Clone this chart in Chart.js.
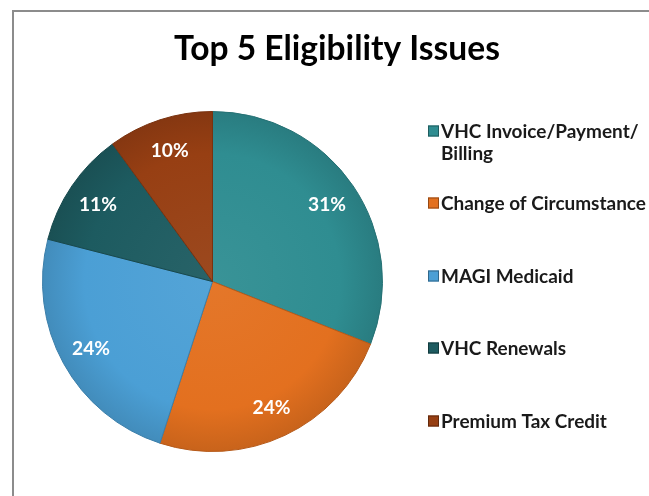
<!DOCTYPE html>
<html>
<head>
<meta charset="utf-8">
<script src="https://cdn.jsdelivr.net/npm/chart.js@4.4.0/dist/chart.umd.min.js"></script>
<style>
  html, body { margin: 0; padding: 0; background: #fff; }
  #wrap { position: relative; width: 649px; height: 496px; overflow: hidden; }
  canvas { display: block; }
</style>
</head>
<body>
<div id="wrap"><canvas id="pieChart" width="649" height="496"></canvas></div>
<script>
const titleText = 'Top 5 Eligibility Issues';
const categories = ['VHC Invoice/Payment/Billing', 'Change of Circumstance', 'MAGI Medicaid', 'VHC Renewals', 'Premium Tax Credit'];
const shares = [31, 24, 24, 11, 10];
const sliceColors = ['#2f8d91', '#e3701f', '#4b9fd5', '#1d5b60', '#973f13'];

const fontFamily = 'Lato, "Open Sans", sans-serif';
const legendRows = [131, 203, 276, 348, 421]; // cap centre of each entry's first line

// pick a font size so that a sample string has the width seen in the picture
function fitSize(ctx, text, width) {
    ctx.font = 'bold 100px ' + fontFamily;
    return 100 * width / ctx.measureText(text).width;
}

function shade(hex, amt) {
    const n = parseInt(hex.slice(1), 16);
    const ch = [(n >> 16) & 255, (n >> 8) & 255, n & 255].map(c => {
        const v = amt > 0 ? c + (255 - c) * amt : c * (1 + amt);
        return Math.round(Math.max(0, Math.min(255, v)));
    });
    return 'rgb(' + ch.join(',') + ')';
}

function wrapLabel(ctx, text, maxWidth) {
    const parts = text.split(/(?<=\/)|(?<= )/);
    const lines = [];
    let line = '';
    parts.forEach(p => {
        if (line && ctx.measureText(line + p).width > maxWidth) {
            lines.push(line.trim());
            line = p;
        } else {
            line += p;
        }
    });
    if (line) lines.push(line.trim());
    return lines;
}

const framePlugin = {
    id: 'frame',
    beforeDraw(chart) {
        const ctx = chart.ctx;
        ctx.save();
        ctx.fillStyle = '#ffffff';
        ctx.fillRect(0, 0, chart.width, chart.height);
        ctx.strokeStyle = '#8c8c8c';
        ctx.lineWidth = 2;
        ctx.beginPath();
        ctx.moveTo(13, chart.height);
        ctx.lineTo(13, 11);
        ctx.lineTo(chart.width, 11);
        ctx.stroke();
        ctx.restore();
    }
};

const textPlugin = {
    id: 'texts',
    afterDraw(chart) {
        const ctx = chart.ctx;
        ctx.save();

        // title
        const titleSize = fitSize(ctx, titleText, 326);
        ctx.font = 'bold ' + titleSize + 'px ' + fontFamily;
        ctx.fillStyle = '#000000';
        ctx.textAlign = 'center';
        ctx.textBaseline = 'alphabetic';
        ctx.fillText(titleText, 337, 60);

        // slice labels
        const meta = chart.getDatasetMeta(0);
        const labelSize = fitSize(ctx, '31%', 38);
        ctx.font = 'bold ' + labelSize + 'px ' + fontFamily;
        ctx.fillStyle = '#ffffff';
        ctx.textBaseline = 'middle';
        meta.data.forEach((arc, i) => {
            const p = arc.getProps(['x', 'y', 'startAngle', 'endAngle', 'outerRadius'], true);
            const mid = (p.startAngle + p.endAngle) / 2;
            const r = p.outerRadius * 0.815;
            ctx.fillText(shares[i] + '%', p.x + Math.cos(mid) * r, p.y + Math.sin(mid) * r + 1);
        });

        // legend
        const legendSize = fitSize(ctx, 'Change of Circumstance', 205);
        ctx.font = 'bold ' + legendSize + 'px ' + fontFamily;
        ctx.textAlign = 'left';
        ctx.textBaseline = 'alphabetic';
        const capHalf = legendSize * 0.36;
        categories.forEach((label, i) => {
            const y0 = legendRows[i];
            ctx.fillStyle = sliceColors[i];
            ctx.fillRect(428, y0 - 5.5, 11, 11);
            ctx.strokeStyle = shade(sliceColors[i], -0.35);
            ctx.lineWidth = 1;
            ctx.strokeRect(428.5, y0 - 5, 10, 10);
            ctx.fillStyle = '#1a1a1a';
            wrapLabel(ctx, label, 206).forEach((line, j) => {
                ctx.fillText(line, 441, y0 + capHalf + j * 22);
            });
        });
        ctx.restore();
    }
};

new Chart(document.getElementById('pieChart'), {
    type: 'pie',
    data: {
        labels: categories,
        datasets: [{
            data: shares,
            backgroundColor: function (context) {
                const i = context.dataIndex;
                const area = context.chart.chartArea;
                if (!area) return sliceColors[i];
                const cx = (area.left + area.right) / 2;
                const cy = (area.top + area.bottom) / 2;
                const r = Math.min(area.right - area.left, area.bottom - area.top) / 2;
                const g = context.chart.ctx.createRadialGradient(cx, cy, 0, cx, cy, r);
                g.addColorStop(0, shade(sliceColors[i], 0.05));
                g.addColorStop(0.75, sliceColors[i]);
                g.addColorStop(1, shade(sliceColors[i], -0.12));
                return g;
            },
            borderColor: sliceColors.map(c => shade(c, -0.2)),
            borderWidth: 1,
            hoverOffset: 0
        }]
    },
    options: {
        responsive: false,
        animation: false,
        layout: {
            padding: { left: 42, top: 111, right: 266, bottom: 44 }
        },
        plugins: {
            legend: { display: false },
            title: { display: false },
            tooltip: { enabled: false }
        }
    },
    plugins: [framePlugin, textPlugin]
});
</script>
</body>
</html>
